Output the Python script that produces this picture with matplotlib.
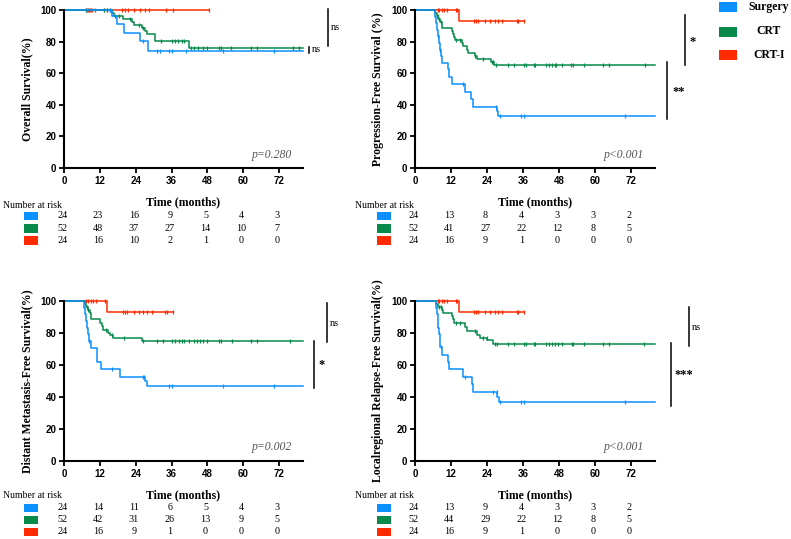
import matplotlib
matplotlib.use("Agg")
import matplotlib.pyplot as plt
from matplotlib.lines import Line2D
from matplotlib.patches import Rectangle
from matplotlib.transforms import blended_transform_factory
import numpy as np

W, H = 791, 539
SERIF = ["Liberation Serif", "DejaVu Serif"]
SANS = ["Liberation Sans", "DejaVu Sans"]

groups = ["Surgery", "CRT", "CRT-I"]
colors = ["#0A90FF", "#078A4A", "#FF2A00"]
risk_times = [0, 12, 24, 36, 48, 60, 72]

# ---------------- Overall survival ----------------
os_surg_t = [0, 16.0, 17.7, 20.1, 25.5, 28.1]
os_surg_s = [100, 96.0, 91.0, 85.3, 80.4, 74.0]
os_surg_c = [7.8, 8.9, 15.4, 26.6, 31.1, 32.0, 35.2, 36.1, 40.9, 53.2, 70.2]
os_surg_end = 80
os_crt_t = [0, 16.0, 16.6, 19.9, 22.7, 23.3, 26.0, 27.2, 27.7, 30.5, 41.7]
os_crt_s = [100, 98.1, 96.2, 94.2, 92.3, 90.4, 88.5, 86.5, 84.6, 80.4, 76.2]
os_crt_c = [7.5, 8.3, 13.5, 14.5, 15.5, 17.0, 18.5, 22.0, 25.0, 26.5, 32.5, 36.0, 37.0,
            38.0, 39.5, 40.0, 42.5, 43.5, 45.0, 46.5, 48.0, 52.0, 52.5, 56.0, 62.5, 64.5,
            76.5, 78.5]
os_crt_end = 80
os_crti_t = [0]
os_crti_s = [100]
os_crti_c = [7.5, 8.2, 8.8, 9.5, 10.5, 13.5, 14.5, 19.5, 20.5, 21.5, 23.5, 25.5, 27.0,
             28.5, 34.0, 36.5, 48.5]
os_crti_end = 48.5
os_risk_surg = [24, 23, 16, 9, 5, 4, 3]
os_risk_crt = [52, 48, 37, 27, 14, 10, 7]
os_risk_crti = [24, 16, 10, 2, 1, 0, 0]

# ---------------- Progression-free survival ----------------
pfs_surg_t = [0, 6.6, 7.0, 7.3, 7.6, 7.9, 8.2, 8.6, 9.0, 11.0, 11.3, 12.3, 16.5, 18.6,
              19.2, 27.3, 27.8]
pfs_surg_s = [100, 95.8, 91.7, 87.5, 83.3, 79.2, 75.0, 70.8, 66.7, 62.5, 57.5, 53.2, 48.4,
              43.5, 38.7, 35.9, 33.1]
pfs_surg_c = [7.8, 8.3, 16.1, 27.0, 28.3, 35.3, 36.3, 70.0]
pfs_surg_end = 80
pfs_crt_t = [0, 6.7, 7.2, 7.6, 8.2, 9.0, 12.2, 12.7, 13.1, 13.3, 15.5, 16.1, 17.2, 17.6,
             20.0, 20.8, 25.2, 26.3]
pfs_crt_s = [100, 98.1, 96.2, 94.2, 92.3, 88.5, 86.5, 84.6, 82.7, 80.8, 78.8, 76.9, 75.0,
             73.1, 71.2, 69.2, 67.3, 65.4]
pfs_crt_c = [7.5, 8.0, 8.5, 13.5, 15.0, 20.0, 22.5, 25.5, 26.0, 27.0, 31.0, 33.0, 36.3,
             37.0, 39.5, 40.0, 43.5, 44.5, 45.5, 46.5, 47.0, 49.0, 52.0, 52.5, 56.3, 62.5,
             64.5, 76.5]
pfs_crt_end = 80
pfs_crti_t = [0, 14.8]
pfs_crti_s = [100, 92.9]
pfs_crti_c = [7.5, 8.1, 8.9, 9.8, 10.6, 13.7, 14.0, 19.6, 20.3, 21.1, 23.3, 25.0, 26.6,
              27.8, 28.9, 33.9, 34.4, 36.4]
pfs_crti_end = 36.4
pfs_risk_surg = [24, 13, 8, 4, 3, 3, 2]
pfs_risk_crt = [52, 41, 27, 22, 12, 8, 5]
pfs_risk_crti = [24, 16, 9, 1, 0, 0, 0]

# ---------------- Distant metastasis-free survival ----------------
dm_surg_t = [0, 6.8, 7.1, 7.4, 7.7, 8.0, 8.3, 8.9, 11.0, 12.3, 18.8, 27.2, 27.7]
dm_surg_s = [100, 95.8, 91.7, 87.5, 83.3, 79.2, 75.0, 70.8, 61.7, 57.3, 52.5, 50.0, 46.9]
dm_surg_c = [8.5, 15.9, 26.3, 26.8, 35.2, 36.3, 53.2, 70.2]
dm_surg_end = 80
dm_crt_t = [0, 7.0, 7.5, 8.1, 8.6, 9.2, 12.0, 12.6, 13.2, 14.6, 15.3, 16.5, 26.0]
dm_crt_s = [100, 98.1, 96.2, 94.2, 92.3, 88.5, 86.5, 84.6, 82.0, 80.0, 78.5, 77.1, 74.8]
dm_crt_c = [7.8, 8.2, 14.0, 16.0, 20.0, 26.5, 31.0, 33.0, 36.3, 37.0, 38.5, 39.5, 40.0,
            42.0, 43.5, 44.5, 45.5, 46.5, 48.0, 52.0, 52.5, 56.3, 62.5, 64.5, 75.7]
dm_crt_end = 80
dm_crti_t = [0, 14.5]
dm_crti_s = [100, 92.9]
dm_crti_c = [7.5, 8.2, 9.0, 9.8, 10.8, 13.8, 19.8, 20.3, 21.1, 23.3, 25.2, 26.6, 27.8,
             29.5, 33.9, 34.4, 36.4]
dm_crti_end = 36.4
dm_risk_surg = [24, 14, 11, 6, 5, 4, 3]
dm_risk_crt = [52, 42, 31, 26, 13, 9, 5]
dm_risk_crti = [24, 16, 9, 1, 0, 0, 0]

# ---------------- Locoregional relapse-free survival ----------------
lr_surg_t = [0, 6.9, 7.2, 7.5, 7.8, 8.0, 8.3, 8.9, 11.1, 11.4, 16.1, 18.9, 19.2, 27.4, 27.9]
lr_surg_s = [100, 95.8, 91.7, 87.5, 83.3, 79.2, 71.5, 66.5, 62.0, 57.3, 52.7, 48.0, 43.3,
             40.2, 37.1]
lr_surg_c = [8.5, 16.7, 25.9, 27.2, 28.4, 35.2, 36.4, 70.0]
lr_surg_end = 80
lr_crt_t = [0, 6.9, 7.8, 8.9, 9.4, 12.2, 12.8, 13.1, 16.7, 17.2, 20.6, 21.7, 24.1, 25.9]
lr_crt_s = [100, 98.1, 96.2, 94.2, 92.3, 90.4, 88.5, 86.3, 84.0, 81.2, 79.0, 77.0, 75.7, 73.4]
lr_crt_c = [8.0, 8.6, 13.5, 15.0, 20.0, 22.5, 24.0, 26.5, 27.2, 31.0, 33.0, 36.3, 37.0,
            39.7, 40.0, 43.5, 44.5, 45.5, 46.5, 47.5, 49.0, 52.2, 52.5, 56.3, 62.5, 64.5, 76.3]
lr_crt_end = 80
lr_crti_t = [0, 14.8]
lr_crti_s = [100, 92.9]
lr_crti_c = [7.5, 8.1, 8.9, 9.8, 10.6, 13.7, 14.0, 19.6, 20.3, 21.1, 23.3, 25.0, 26.6,
             27.8, 28.9, 33.9, 34.4, 36.4]
lr_crti_end = 36.4
lr_risk_surg = [24, 13, 9, 4, 3, 3, 2]
lr_risk_crt = [52, 44, 29, 22, 12, 8, 5]
lr_risk_crti = [24, 16, 9, 1, 0, 0, 0]

panels = [
    dict(ylabel="Overall Survival(%)", p="p=0.280",
         curves=[(os_surg_t, os_surg_s, os_surg_c, os_surg_end),
                 (os_crt_t, os_crt_s, os_crt_c, os_crt_end),
                 (os_crti_t, os_crti_s, os_crti_c, os_crti_end)],
         risk=[os_risk_surg, os_risk_crt, os_risk_crti]),
    dict(ylabel="Progression-Free Survival (%)", p="p<0.001",
         curves=[(pfs_surg_t, pfs_surg_s, pfs_surg_c, pfs_surg_end),
                 (pfs_crt_t, pfs_crt_s, pfs_crt_c, pfs_crt_end),
                 (pfs_crti_t, pfs_crti_s, pfs_crti_c, pfs_crti_end)],
         risk=[pfs_risk_surg, pfs_risk_crt, pfs_risk_crti]),
    dict(ylabel="Distant Metastasis-Free Survival(%)", p="p=0.002",
         curves=[(dm_surg_t, dm_surg_s, dm_surg_c, dm_surg_end),
                 (dm_crt_t, dm_crt_s, dm_crt_c, dm_crt_end),
                 (dm_crti_t, dm_crti_s, dm_crti_c, dm_crti_end)],
         risk=[dm_risk_surg, dm_risk_crt, dm_risk_crti]),
    dict(ylabel="Localregional Relapse-Free Survival(%)", p="p<0.001",
         curves=[(lr_surg_t, lr_surg_s, lr_surg_c, lr_surg_end),
                 (lr_crt_t, lr_crt_s, lr_crt_c, lr_crt_end),
                 (lr_crti_t, lr_crti_s, lr_crti_c, lr_crti_end)],
         risk=[lr_risk_surg, lr_risk_crt, lr_risk_crti]),
]

fig = plt.figure(figsize=(W / 100, H / 100), dpi=100)
fig.patch.set_facecolor("white")

def fx(px):
    return px / W

def fy(py):
    return 1 - py / H

# axes boxes in pixels: left, top, right, bottom
boxes = [(64, 10, 303, 168), (415, 10, 655, 168), (64, 301, 303, 461), (415, 301, 655, 461)]
# risk table layout (pixels)
risk_label_x = [3, 355, 3, 355]
risk_label_y = [205, 205, 495, 495]
risk_rows_y = [[216, 228.5, 240.5], [216, 228.5, 240.5], [508, 520, 531.5], [508, 520, 531.5]]
square_x = [24, 377, 24, 377]
zorders = [5, 4, 3]

for i, (pan, box) in enumerate(zip(panels, boxes)):
    l, t, r, b = box
    ax = fig.add_axes([fx(l), fy(b), (r - l) / W, (b - t) / H])
    for (tt, ss, cc, end), col, zo in zip(pan["curves"], colors, zorders):
        xs = list(tt) + [end]
        ys = list(ss) + [ss[-1]]
        ax.step(xs, ys, where="post", color=col, lw=1.1, clip_on=False, zorder=zo)
        idx = np.searchsorted(np.array(tt), np.array(cc), side="right") - 1
        cy = np.array(ss)[idx]
        ax.plot(cc, cy, ls="none", marker="|", ms=3.5, mew=0.9, color=col,
                clip_on=False, zorder=zo)
    ax.set_xlim(0, 80)
    ax.set_ylim(0, 100)
    ax.set_xticks(risk_times)
    ax.set_yticks([0, 20, 40, 60, 80, 100])
    for s in ["top", "right"]:
        ax.spines[s].set_visible(False)
    for s in ["left", "bottom"]:
        ax.spines[s].set_linewidth(1.5)
        ax.spines[s].set_zorder(6)
    ax.tick_params(direction="out", length=3.5, width=1.3, pad=2)
    for lab in ax.get_xticklabels() + ax.get_yticklabels():
        lab.set_fontfamily(SANS)
        lab.set_fontweight("bold")
        lab.set_fontsize(7)
    ax.set_ylabel(pan["ylabel"], fontfamily=SERIF, fontweight="bold", fontsize=8.5)
    ax.yaxis.set_label_coords(-31 / (r - l), 0.5)
    ax.set_xlabel("Time (months)", fontfamily=SERIF, fontweight="bold", fontsize=8.5)
    ax.xaxis.set_label_coords(0.5, -28 / (b - t))
    ax.text(0.955, 0.085, pan["p"], transform=ax.transAxes, ha="right", va="center",
            fontfamily=SERIF, style="italic", fontsize=8.5, color="#555555")

    # risk table
    fig.text(fx(risk_label_x[i]), fy(risk_label_y[i]), "Number at risk",
             fontfamily=SERIF, fontsize=7, ha="left", va="center")
    tr = blended_transform_factory(ax.transData, fig.transFigure)
    for row, col, yy in zip(pan["risk"], colors, risk_rows_y[i]):
        fig.patches.append(Rectangle((fx(square_x[i]), fy(yy + 4)), 14 / W, 8 / H,
                                     transform=fig.transFigure, facecolor=col,
                                     edgecolor="none"))
        for tv, n in zip(risk_times, row):
            fig.text(tv - 0.6, fy(yy), str(n), transform=tr, ha="center", va="center",
                     fontfamily=SERIF, fontsize=7.3)

# significance brackets (pixels)
def vline(x, y1, y2):
    fig.add_artist(Line2D([fx(x), fx(x)], [fy(y1), fy(y2)], color="black", lw=1.1))

def note(x, y, s, bold=False, size=7.5):
    fig.text(fx(x), fy(y), s, ha="left", va="center", fontfamily=SERIF,
             fontweight="bold" if bold else "normal", fontsize=size)

vline(328, 9, 46); note(331, 28, "ns")
vline(309, 47, 53); note(312, 50, "ns")
vline(685, 15, 65); note(689, 42, "*", True, 9)
vline(667, 62, 119); note(672, 92, "**", True, 9)
vline(327, 303, 342); note(330, 323, "ns")
vline(314, 341, 388); note(318, 365, "*", True, 9)
vline(689, 307, 346); note(692, 327, "ns")
vline(671, 343, 406); note(674, 375, "***", True, 9)

# legend
leg_y = [7, 31.5, 55]
for g, col, yy in zip(groups, colors, leg_y):
    fig.patches.append(Rectangle((fx(719), fy(yy + 5)), 18 / W, 10 / H,
                                 transform=fig.transFigure, facecolor=col, edgecolor="none"))
    fig.text(fx(769), fy(yy), g, ha="center", va="center", fontfamily=SERIF,
             fontweight="bold", fontsize=8.5)

fig.savefig("out.png", dpi=100)
